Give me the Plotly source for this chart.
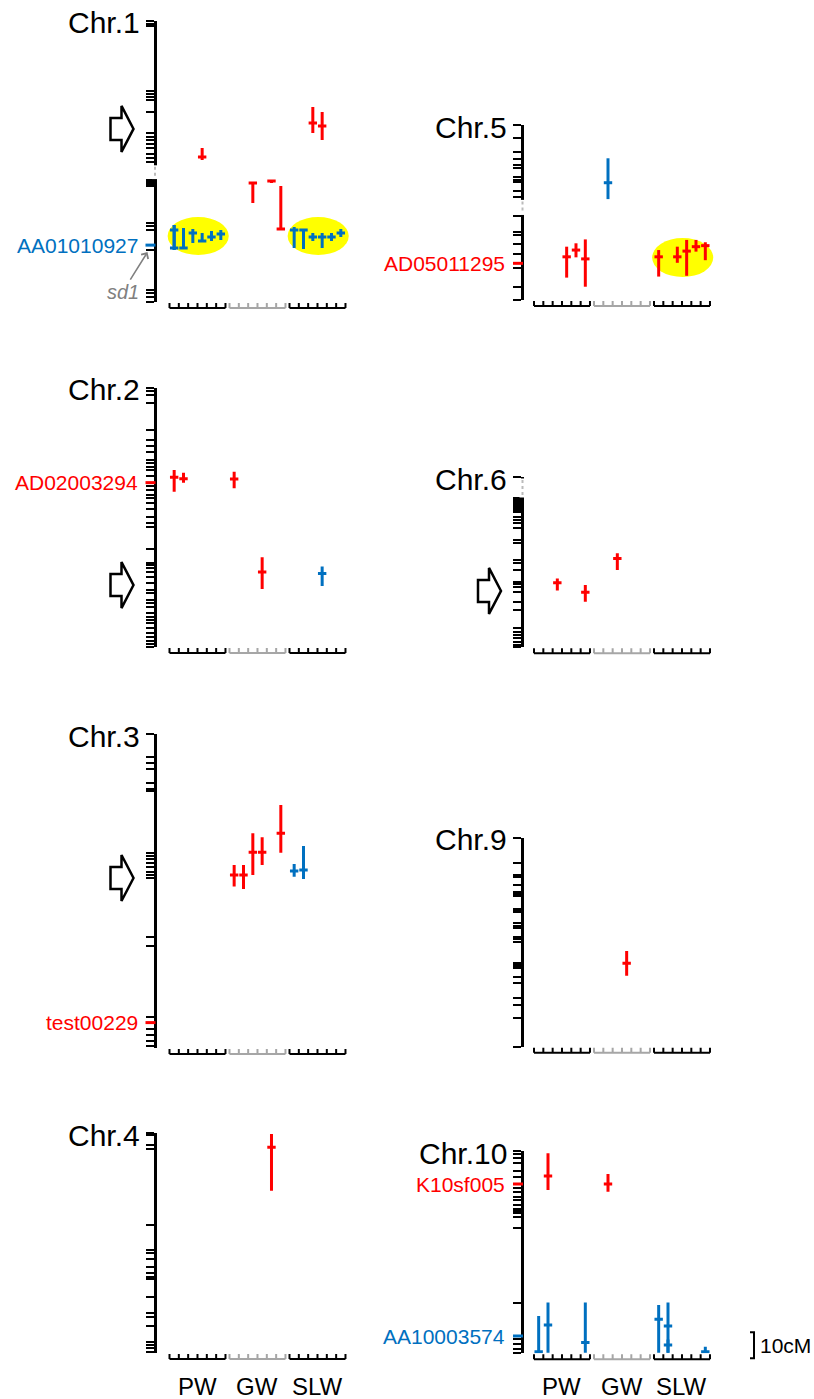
import plotly.graph_objects as go

# ---------------- data (positions in cM from the top of each chromosome) ----------------
chromosomes = ["Chr.1", "Chr.2", "Chr.3", "Chr.4", "Chr.5", "Chr.6", "Chr.9", "Chr.10"]
chrom_length_cm = [108.1, 99.6, 120.8, 84.6, 67.3, 65.5, 80.3, 77.8]

markers_chr1 = [0, 1.0, 1.9, 26.9, 28.1, 29.2, 30.4, 35.0, 43.1, 44.6, 45.8, 47.3, 48.8, 51.2, 52.7,
                54.2, 61.2, 61.9, 62.7, 63.5, 77.7, 78.8, 80.4, 86.2, 88.1, 103.5, 104.6, 106.2, 108.1]
markers_chr2 = [0.1, 1.0, 2.7, 5.7, 16.2, 20.0, 22.3, 24.5, 27.7, 29.0, 30.3, 31.5, 33.8, 36.4, 37.7,
                39.2, 41.2, 42.4, 44.1, 46.7, 49.5, 52.1, 53.3, 61.9, 67.2, 68.1, 69.3, 70.7, 72.6,
                75.1, 77.7, 79.0, 81.5, 82.8, 84.3, 86.7, 88.0, 89.2, 90.5, 92.4, 94.4, 95.7, 97.2,
                98.5, 99.5]
markers_chr3 = [0, 8.7, 11.0, 13.6, 19.0, 21.3, 21.8, 45.9, 46.9, 48.2, 49.5, 51.0, 53.0, 54.2, 55.5,
                78.0, 81.5, 108.7, 111.0, 113.6, 115.8, 118.0, 120.0]
markers_chr4 = [0, 0.8, 4.6, 6.3, 35.4, 45.0, 46.3, 48.6, 51.4, 54.0, 55.3, 56.3, 63.0, 69.1, 70.7,
                74.2, 80.3, 81.5, 82.8, 84.1]
markers_chr5 = [0, 5.1, 10.3, 13.2, 15.4, 16.7, 20.1, 21.2, 22.0, 25.3, 27.8, 35.0, 41.0, 42.3, 45.8,
                49.6, 53.2, 55.1, 62.4, 67.3]
markers_chr6 = [0, 8.2, 8.8, 9.6, 10.4, 11.2, 11.9, 12.7, 13.6, 15.3, 16.5, 17.8, 19.7, 24.2, 25.3,
                31.9, 33.2, 35.8, 40.3, 41.2, 42.2, 44.1, 48.0, 51.2, 58.2, 59.5, 60.8, 62.1, 63.3,
                64.6, 65.5]
markers_chr9 = [0.1, 9.5, 14.2, 14.9, 18.1, 20.7, 21.5, 22.3, 27.4, 27.9, 28.5, 32.8, 33.8, 34.7, 38.2,
                38.9, 39.9, 48.2, 48.8, 49.5, 50.1, 53.3, 55.9, 61.4, 64.2, 69.3, 80.3]
markers_chr10 = [0, 1.2, 2.8, 4.7, 7.5, 9.9, 12.7, 14.3, 15.7, 17.6, 18.8, 20.8, 22.4, 23.0, 24.0,
                 25.5, 29.5, 58.4, 71.2, 72.4, 74.3, 76.3, 77.7]
marker_positions = [markers_chr1, markers_chr2, markers_chr3, markers_chr4,
                    markers_chr5, markers_chr6, markers_chr9, markers_chr10]

trait_groups = ["PW", "GW", "SLW"]

# labelled markers
hl_chrom = ["Chr.1", "Chr.2", "Chr.3", "Chr.5", "Chr.10", "Chr.10"]
hl_name = ["AA01010927", "AD02003294", "test00229", "AD05011295", "K10sf005", "AA10003574"]
hl_pos = [86.2, 36.4, 111.0, 53.2, 12.7, 71.2]
hl_effect = ["neg", "pos", "pos", "pos", "pos", "neg"]

# QTLs: chromosome, trait group, trait index (0-5), peak, interval low / high (cM), effect
qtl_chrom = (["Chr.1"] * 19 + ["Chr.2"] * 5 + ["Chr.3"] * 7 + ["Chr.4"] + ["Chr.5"] * 9
             + ["Chr.6"] * 3 + ["Chr.9"] + ["Chr.10"] * 9)
qtl_group = ["PW", "PW", "PW", "PW", "PW", "PW", "PW", "SLW", "SLW", "SLW", "SLW", "SLW", "SLW",
             "PW", "GW", "GW", "GW", "SLW", "SLW",
             "PW", "PW", "GW", "GW", "SLW",
             "GW", "GW", "GW", "GW", "GW", "SLW", "SLW",
             "GW",
             "GW", "PW", "PW", "PW", "SLW", "SLW", "SLW", "SLW", "SLW",
             "PW", "PW", "GW",
             "GW",
             "PW", "GW", "PW", "PW", "PW", "SLW", "SLW", "SLW", "SLW"]
qtl_trait = [0, 0, 1, 2, 3, 4, 5, 0, 1, 2, 3, 4, 5,
             3, 2, 4, 5, 2, 3,
             0, 1, 0, 3, 3,
             0, 1, 2, 3, 5, 0, 1,
             4,
             1, 3, 4, 5, 0, 2, 3, 4, 5,
             2, 5, 2,
             3,
             1, 1, 0, 1, 5, 0, 1, 1, 5]
qtl_peak = [87.3, 80.4, 87.3, 81.5, 84.6, 83.1, 81.9, 80.4, 80.4, 83.1, 83.1, 83.1, 81.5,
            52.3, 62.3, 61.5, 80.0, 39.2, 40.4,
            34.3, 34.9, 35.0, 70.8, 71.3,
            54.2, 54.2, 45.5, 45.5, 38.2, 52.7, 52.3,
            5.5,
            22.2, 50.7, 48.1, 51.5, 50.7, 50.7, 48.5, 46.8, 46.4,
            40.7, 44.3, 31.3,
            48.2,
            9.6, 12.7, 77.2, 66.9, 73.7, 64.7, 67.3, 74.6, 77.2]
qtl_lo = [78.5, 78.5, 79.6, 80.0, 81.5, 80.8, 80.4, 79.2, 80.0, 81.5, 81.5, 81.5, 80.0,
          48.8, 61.9, 61.2, 63.5, 33.1, 35.0,
          31.5, 32.6, 32.2, 65.1, 68.7,
          50.4, 50.4, 38.2, 39.7, 27.3, 50.0, 43.1,
          0.4,
          12.8, 46.8, 45.5, 44.0, 48.1, 46.8, 44.2, 44.2, 45.1,
          39.0, 41.5, 29.3,
          43.5,
          0.9, 8.8, 63.5, 58.3, 58.3, 59.2, 58.3, 72.5, 75.3]
qtl_hi = [88.1, 88.1, 87.7, 85.4, 84.8, 84.6, 84.2, 87.3, 87.7, 84.6, 87.3, 84.6, 83.1,
          53.5, 70.0, 62.3, 80.4, 43.1, 45.8,
          39.9, 36.4, 38.6, 77.3, 76.2,
          58.7, 59.6, 54.2, 50.4, 45.7, 54.9, 55.8,
          22.2,
          28.5, 58.7, 50.9, 62.2, 58.3, 53.0, 58.0, 48.7, 52.0,
          43.7, 48.0, 35.8,
          53.0,
          15.0, 15.7, 77.6, 77.6, 77.6, 77.6, 77.6, 77.6, 77.6]
qtl_effect = (["neg"] * 13 + ["pos"] * 6 + ["pos"] * 4 + ["neg"] + ["pos"] * 5 + ["neg"] * 2
              + ["pos"] + ["neg"] + ["pos"] * 8 + ["pos"] * 3 + ["pos"] + ["pos"] * 2 + ["neg"] * 7)

# chromosome segments not drawn (breaks)
break_chrom = ["Chr.1", "Chr.5", "Chr.6"]
break_start = [55.5, 28.8, 0.6]
break_end = [60.8, 34.6, 7.9]

# arrows pointing at regions
arrow_chrom = ["Chr.1", "Chr.2", "Chr.3", "Chr.6"]
arrow_pos = [41.5, 75.8, 55.4, 43.8]

# yellow QTL clusters
cluster_chrom = ["Chr.1", "Chr.1", "Chr.5"]
cluster_group = ["PW", "SLW", "SLW"]
cluster_lo = [75.4, 75.4, 43.5]
cluster_hi = [90.0, 90.0, 58.5]

scale_cm = 10

# ---------------- layout constants ----------------
W, H = 814, 1399
PX_PER_CM = 2.6
CELL_PX = 9.33
GROUP_STEP = 60 / CELL_PX
X_MAX = 19.5
panel_top_px = [21, 388, 734, 1133, 125, 477, 838, 1151]
panel_col = [0, 0, 0, 0, 1, 1, 1, 1]
AXIS_PX = [156.5, 524.0]
ORIGIN_PX = [169.5, 534.0]
COLORS = {"pos": "#FF0000", "neg": "#0070C0"}
FONT = "Arial, Liberation Sans, sans-serif"


def xp(px):
    return px / W


def yp(py):
    return 1 - py / H


def xpos(group, trait):
    return trait_groups.index(group) * GROUP_STEP + trait + 0.5


fig = go.Figure()
shapes = []
annotations = []

for i, chrom in enumerate(chromosomes):
    n = i + 1
    sfx = "" if n == 1 else str(n)
    xr, yr = "x" + sfx, "y" + sfx
    col = panel_col[i]
    top = panel_top_px[i]
    L = chrom_length_cm[i]
    bottom = top + L * PX_PER_CM
    ax_px = AXIS_PX[col]
    org = ORIGIN_PX[col]
    x0 = (ax_px - org) / CELL_PX

    fig.layout["xaxis" + sfx] = dict(domain=[xp(ax_px), xp(org + X_MAX * CELL_PX)],
                                     range=[x0, X_MAX], visible=False, anchor=yr, fixedrange=True)
    fig.layout["yaxis" + sfx] = dict(domain=[yp(bottom), yp(top)], range=[L, 0], anchor=xr,
                                     showline=True, linewidth=3, linecolor="black",
                                     ticks="outside", tickvals=marker_positions[i], ticklen=8,
                                     tickwidth=2.4, tickcolor="black", showticklabels=False,
                                     showgrid=False, zeroline=False, fixedrange=True)

    # QTL intervals
    for eff in ["pos", "neg"]:
        idx = [k for k in range(len(qtl_chrom)) if qtl_chrom[k] == chrom and qtl_effect[k] == eff]
        if not idx:
            continue
        fig.add_trace(go.Scatter(
            x=[xpos(qtl_group[k], qtl_trait[k]) for k in idx],
            y=[qtl_peak[k] for k in idx],
            mode="markers",
            marker=dict(symbol="line-ew", size=6, color=COLORS[eff],
                        line=dict(width=3, color=COLORS[eff])),
            error_y=dict(type="data", symmetric=False,
                         array=[qtl_hi[k] - qtl_peak[k] for k in idx],
                         arrayminus=[qtl_peak[k] - qtl_lo[k] for k in idx],
                         thickness=3, width=0, color=COLORS[eff]),
            xaxis=xr, yaxis=yr, showlegend=False, hoverinfo="skip"))

    # trait group brackets under each chromosome
    yb = bottom + 6
    for g, grp in enumerate(trait_groups):
        gx0 = g * GROUP_STEP
        path = f"M {gx0},{yp(yb)} L {gx0 + 6},{yp(yb)}"
        for k in range(7):
            path += f" M {gx0 + k},{yp(yb)} L {gx0 + k},{yp(yb - 5)}"
        shapes.append(dict(type="path", path=path, xref=xr, yref="paper",
                           line=dict(color="#A6A6A6" if grp == "GW" else "black", width=2)))

    # chromosome name
    annotations.append(dict(text=chrom, x=xp(ax_px - 15), y=yp(top + 2), xref="paper", yref="paper",
                            xanchor="right", yanchor="middle", showarrow=False,
                            font=dict(family=FONT, size=30, color="black")))

    # group labels under the bottom panels
    if chrom in ("Chr.4", "Chr.10"):
        for g, grp in enumerate(trait_groups):
            annotations.append(dict(text=grp, x=g * GROUP_STEP + 3, y=yp(1386), xref=xr, yref="paper",
                                    xanchor="center", yanchor="middle", showarrow=False,
                                    font=dict(family=FONT, size=24, color="black")))

# yellow clusters
for c, grp, lo, hi in zip(cluster_chrom, cluster_group, cluster_lo, cluster_hi):
    i = chromosomes.index(c)
    sfx = "" if i == 0 else str(i + 1)
    gx0 = trait_groups.index(grp) * GROUP_STEP
    shapes.append(dict(type="circle", xref="x" + sfx, yref="y" + sfx, x0=gx0 - 0.2, x1=gx0 + 6.35,
                       y0=lo, y1=hi, fillcolor="#FFFF00", line=dict(width=0), layer="below"))

# breaks in chromosomes
for c, s, e in zip(break_chrom, break_start, break_end):
    i = chromosomes.index(c)
    sfx = "" if i == 0 else str(i + 1)
    axx = xp(AXIS_PX[panel_col[i]] - 1.5)
    shapes.append(dict(type="line", xref="paper", yref="y" + sfx, x0=axx, x1=axx, y0=s, y1=e,
                       line=dict(color="white", width=6), layer="above"))
    shapes.append(dict(type="line", xref="paper", yref="y" + sfx, x0=axx, x1=axx, y0=s + 0.6, y1=e - 0.6,
                       line=dict(color="#BBBBBB", width=2, dash="3px,3px"), layer="above"))

# labelled markers
for c, name, pos, eff in zip(hl_chrom, hl_name, hl_pos, hl_effect):
    i = chromosomes.index(c)
    sfx = "" if i == 0 else str(i + 1)
    ax_px = AXIS_PX[panel_col[i]]
    shapes.append(dict(type="line", xref="paper", yref="y" + sfx, x0=xp(ax_px - 11), x1=xp(ax_px - 1),
                       y0=pos, y1=pos, line=dict(color=COLORS[eff], width=3), layer="above"))
    annotations.append(dict(text=name, x=xp(ax_px - 17), y=pos, xref="paper", yref="y" + sfx,
                            xanchor="right", yanchor="middle", showarrow=False,
                            font=dict(family=FONT, size=21, color=COLORS[eff])))

# block arrows
for c, pos in zip(arrow_chrom, arrow_pos):
    i = chromosomes.index(c)
    tip = AXIS_PX[panel_col[i]] - 23
    cy = panel_top_px[i] + pos * PX_PER_CM
    pts = [(tip - 23, cy - 11), (tip - 12, cy - 11), (tip - 12, cy - 23), (tip, cy),
           (tip - 12, cy + 23), (tip - 12, cy + 11), (tip - 23, cy + 11)]
    path = "M " + " L ".join(f"{xp(a)},{yp(b)}" for a, b in pts) + " Z"
    shapes.append(dict(type="path", path=path, xref="paper", yref="paper",
                       fillcolor="white", line=dict(color="black", width=2.5)))

# sd1 gene pointer
i1 = chromosomes.index("Chr.1")
sd1_py = panel_top_px[i1] + hl_pos[0] * PX_PER_CM + 7
annotations.append(dict(text="<i>sd1</i>", x=xp(AXIS_PX[0] - 9), y=yp(sd1_py), xref="paper", yref="paper",
                        showarrow=True, ax=-25, ay=40, arrowhead=4, arrowsize=1, arrowwidth=1.6,
                        arrowcolor="#808080", font=dict(family=FONT, size=20, color="#808080")))

# 10 cM scale bar next to Chr.10
i10 = chromosomes.index("Chr.10")
sb_bottom = panel_top_px[i10] + chrom_length_cm[i10] * PX_PER_CM + 5
sb_top = sb_bottom - scale_cm * PX_PER_CM
shapes.append(dict(type="path", xref="paper", yref="paper",
                   path=f"M {xp(750)},{yp(sb_top)} L {xp(754)},{yp(sb_top)} L {xp(754)},{yp(sb_bottom)} "
                        f"L {xp(750)},{yp(sb_bottom)}",
                   line=dict(color="black", width=2)))
annotations.append(dict(text=f"{scale_cm}cM", x=xp(758), y=yp((sb_top + sb_bottom) / 2), xref="paper",
                        yref="paper", xanchor="left", yanchor="middle", showarrow=False,
                        font=dict(family=FONT, size=21, color="black")))

fig.update_layout(width=W, height=H, margin=dict(l=0, r=0, t=0, b=0),
                  paper_bgcolor="white", plot_bgcolor="rgba(0,0,0,0)", showlegend=False,
                  shapes=shapes, annotations=annotations)

fig.write_html("out.html", config={"displayModeBar": False},
               post_script="document.body.style.margin='0';document.body.style.overflow='hidden';")
